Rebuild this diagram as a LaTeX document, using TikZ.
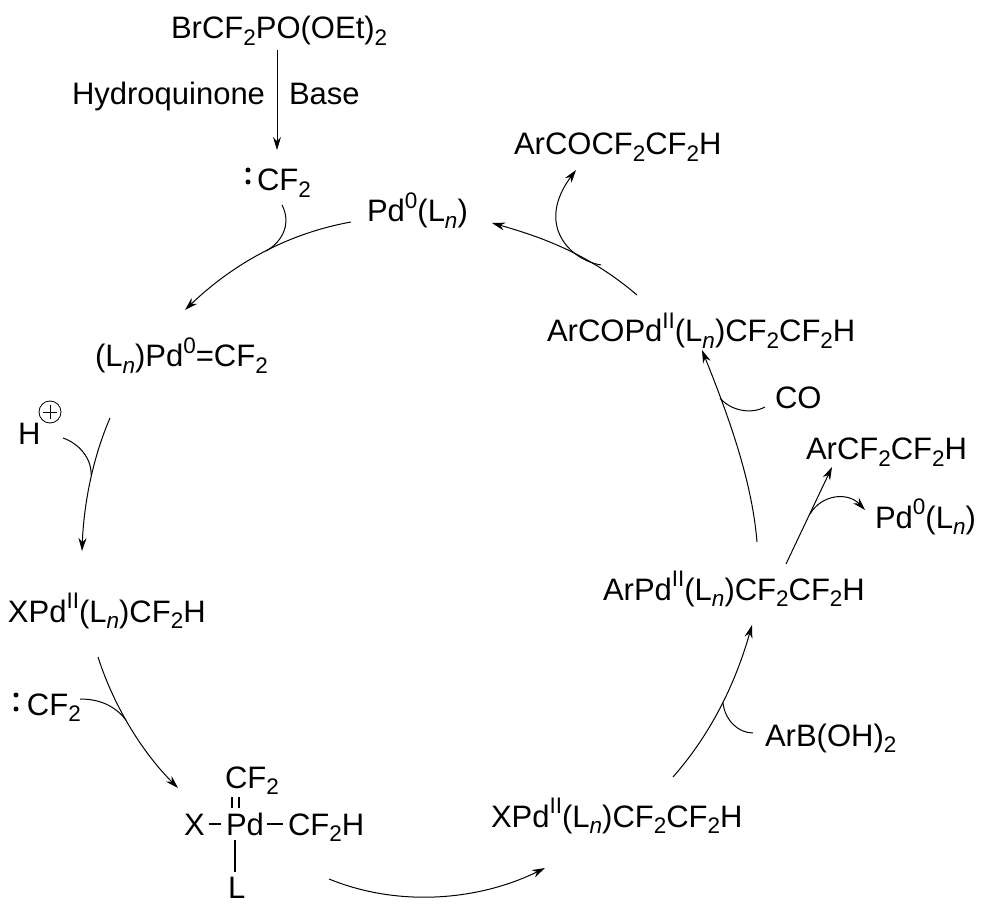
\documentclass[tikz,border=0pt]{standalone}
\usepackage{fontspec}
\setmainfont{Liberation Sans}
\usetikzlibrary{arrows.meta}
\newcommand\sbs[1]{\raisebox{-.2em}{\fontsize{22.5}{24}\selectfont #1}}
\newcommand\sps[1]{\raisebox{.44em}{\fontsize{22.5}{24}\selectfont #1}}
\newcommand\Ln{(L\sbs{\itshape n})}
\tikzset{
  x=1pt,y=-1pt,
  chem/.style={anchor=base west,inner sep=0pt,outer sep=0pt,font=\fontsize{31}{34}\selectfont},
  rxn/.style={line width=1pt,-{Stealth[length=13pt,width=8pt]}},
  branch/.style={line width=1pt},
  bond/.style={line width=1.2pt},
  lonepair/.style={circle,fill=black,inner sep=0pt,minimum size=5pt},
  chargering/.style={circle,draw,line width=.8pt,inner sep=0pt,minimum size=22pt}
}
\begin{document}
\begin{tikzpicture}
\useasboundingbox (0,0) rectangle (986,909);
% texts
\node[chem] (bromo) at (171,39) {BrCF\sbs{2}PO(OEt)\sbs{2}};
\node[chem] (hq) at (72,105) {Hydroquinone};
\node[chem] (base) at (289,105) {Base};
\node[chem] (cfa) at (257,191) {CF\sbs{2}};
\node[lonepair] (cfad1) at (248,170) {};
\node[lonepair] (cfad2) at (248,182) {};
\node[chem] (pda) at (367,222) {Pd\sps{0}\Ln};
\node[chem] (carb) at (95,367) {\Ln Pd\sps{0}=CF\sbs{2}};
\node[chem] (hp) at (18,445) {H};
\node[chargering] (plus) at (50,412) {};
\draw[line width=.8pt] (43,412) -- (57,412) (50,405) -- (50,419);
\node[chem] (xpd) at (8,622) {XPd\sps{II}\Ln CF\sbs{2}H};
\node[chem] (cfb) at (27,715) {CF\sbs{2}};
\node[lonepair] (cfbd1) at (16,695) {};
\node[lonepair] (cfbd2) at (16,709) {};
\node[chem] (cft) at (225,788) {CF\sbs{2}};
\node[chem] (xa) at (184,835) {X};
\node[chem] (pdc) at (226,835) {Pd};
\node[chem] (cfh) at (288,835) {CF\sbs{2}H};
\node[chem] (ll) at (228,898) {L};
\node[chem] (xpdl) at (491,827) {XPd\sps{II}\Ln CF\sbs{2}CF\sbs{2}H};
\node[chem] (arb) at (765,746) {ArB(OH)\sbs{2}};
\node[chem] (arpd) at (603,600) {ArPd\sps{II}\Ln CF\sbs{2}CF\sbs{2}H};
\node[chem] (co) at (775,409) {CO};
\node[chem] (arp) at (806,460) {ArCF\sbs{2}CF\sbs{2}H};
\node[chem] (pdb) at (875,528) {Pd\sps{0}\Ln};
\node[chem] (arco) at (547,342) {ArCOPd\sps{II}\Ln CF\sbs{2}CF\sbs{2}H};
\node[chem] (arcop) at (514,155) {ArCOCF\sbs{2}CF\sbs{2}H};
% connector end points
\coordinate (a1) at (277,50); \coordinate (a2) at (277,150);
\coordinate (b1) at (351,222); \coordinate (b2) at (185,310);
\coordinate (b3) at (282,205); \coordinate (b4) at (266,251);
\coordinate (c1) at (110,418); \coordinate (c2) at (82,551);
\coordinate (c3) at (63,438); \coordinate (c4) at (91,475);
\coordinate (d1) at (98,657); \coordinate (d2) at (178,788);
\coordinate (d3) at (80,699); \coordinate (d4) at (126,720);
\coordinate (e1) at (329,879); \coordinate (e2) at (545,868);
\coordinate (f1) at (673,777); \coordinate (f2) at (752,625);
\coordinate (f3) at (753,733); \coordinate (f4) at (723,703);
\coordinate (g1) at (757,542); \coordinate (g2) at (702,350);
\coordinate (g3) at (765,407); \coordinate (g4) at (720,398);
\coordinate (h1) at (786,564); \coordinate (h2) at (832,467);
\coordinate (h3) at (810,514); \coordinate (h4) at (865,510);
\coordinate (i1) at (637,295); \coordinate (i2) at (492,223);
\coordinate (i3) at (601,265); \coordinate (i4) at (576,170);
% cycle arrows
\draw[rxn] (a1) -- (a2);
\draw[rxn] (b1) .. controls (290,233) and (235,262) .. (b2);
\draw[branch] (b3) .. controls (291,222) and (284,241) .. (b4);
\draw[rxn] (c1) .. controls (94,455) and (84,500) .. (c2);
\draw[branch] (c3) .. controls (78,443) and (92,458) .. (c4);
\draw[rxn] (d1) .. controls (115,710) and (145,755) .. (d2);
\draw[branch] (d3) .. controls (100,699) and (115,706) .. (d4);
\draw[rxn] (e1) .. controls (400,908) and (480,900) .. (e2);
\draw[rxn] (f1) .. controls (710,735) and (735,685) .. (f2);
\draw[branch] (f3) .. controls (738,733) and (725,720) .. (f4);
\draw[rxn] (g1) .. controls (752,480) and (728,415) .. (g2);
\draw[branch] (g3) .. controls (750,415) and (730,410) .. (g4);
\draw[rxn] (h1) -- (h2);
\draw[rxn] (h3) .. controls (822,494) and (848,492) .. (h4);
\draw[rxn] (i1) .. controls (590,255) and (545,238) .. (i2);
\draw[rxn] (i3) .. controls (570,260) and (535,225) .. (i4);
% bonds of the Pd complex
\coordinate (p1) at (209,824); \coordinate (p2) at (221,824);
\coordinate (p3) at (267,824); \coordinate (p4) at (283,824);
\coordinate (p5) at (235,840); \coordinate (p6) at (235,872);
\coordinate (p7) at (232,797); \coordinate (p8) at (232,808);
\coordinate (p9) at (239,797); \coordinate (p10) at (239,808);
\draw[bond] (p1) -- (p2);
\draw[bond] (p3) -- (p4);
\draw[bond] (p5) -- (p6);
\draw[bond] (p7) -- (p8);
\draw[bond] (p9) -- (p10);
\end{tikzpicture}
\end{document}
